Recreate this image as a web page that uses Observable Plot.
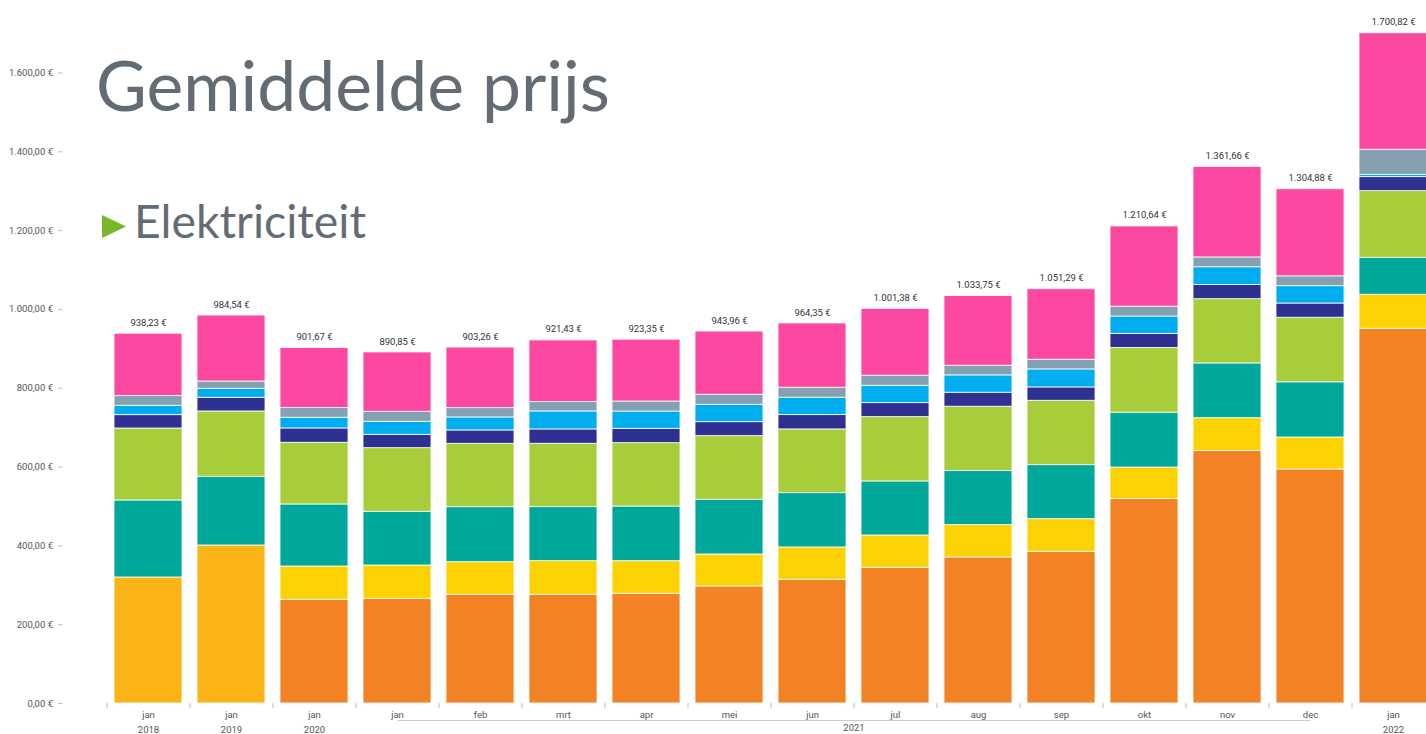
<!DOCTYPE html>
<html>
<head>
<meta charset="utf-8">
<script src="https://cdn.jsdelivr.net/npm/d3@7"></script>
<script src="https://cdn.jsdelivr.net/npm/@observablehq/plot@0.6"></script>
<style>
  html, body { margin: 0; padding: 0; background: #fff; overflow: hidden; }
  #wrap { position: relative; width: 1426px; height: 734px; overflow: hidden; }
  #wrap > svg { max-width: none !important; }
  #wrap > svg.overlay { position: absolute; left: 0; top: 0; pointer-events: none; }
</style>
</head>
<body>
<div id="wrap"></div>
<script>
// ---- data ----
const categories = ["jan 2018","jan 2019","jan 2020","jan 2021","feb 2021","mrt 2021","apr 2021","mei 2021","jun 2021","jul 2021","aug 2021","sep 2021","okt 2021","nov 2021","dec 2021","jan 2022"];
const monthLabels = ["jan","jan","jan","jan","feb","mrt","apr","mei","jun","jul","aug","sep","okt","nov","dec","jan"];
const yearLabels = ["2018","2019","2020","","","","","","","","","","","","","2022"];
const groupYear = "2021";
const seriesNames = ["Component A (2018-2019)","Component A","Component B","Component C","Component D","Component E","Component F","Component G","Component H"];
const seriesColors = ["#FBB416","#F28224","#FDD203","#00A89C","#A7CD3A","#2E3192","#00AEEF","#84A0B1","#FC48A0"];
const compA_old = [319.8, 401.0, 0, 0, 0, 0, 0, 0, 0, 0, 0, 0, 0, 0, 0, 0];
const compA     = [0, 0, 263.2, 265.7, 275.9, 275.9, 278.4, 297.0, 314.0, 344.4, 370.6, 385.0, 519.0, 641.0, 594.0, 951.0];
const compB     = [0, 0, 84.5, 84.5, 82.7, 85.3, 82.7, 81.2, 82.0, 82.0, 82.0, 82.7, 79.8, 83.0, 81.0, 86.3];
const compC     = [195.4, 174.4, 157.4, 136.3, 139.6, 137.1, 138.8, 138.8, 137.8, 137.1, 137.1, 137.1, 139.3, 139.0, 140.0, 93.9];
const compD     = [182.7, 165.7, 156.6, 161.4, 160.9, 160.9, 160.7, 161.4, 161.7, 163.2, 163.5, 163.5, 164.3, 163.0, 164.0, 169.0];
const compE     = [33.8, 34.8, 36.3, 34.0, 33.8, 36.3, 36.5, 35.5, 36.3, 35.5, 35.5, 33.8, 35.7, 36.0, 36.0, 35.5];
const compF     = [23.9, 22.8, 27.2, 33.0, 33.0, 45.7, 43.9, 44.2, 44.2, 44.2, 43.9, 45.7, 44.0, 45.0, 44.0, 6.0];
const compG     = [24.4, 18.5, 24.4, 25.4, 23.6, 23.6, 25.4, 25.4, 25.4, 25.4, 24.6, 24.6, 25.0, 25.0, 25.0, 63.5];
const compH     = [158.4, 167.3, 152.3, 150.5, 153.8, 156.6, 156.9, 160.4, 163.0, 169.5, 176.6, 178.9, 203.5, 229.7, 220.9, 295.6];
const totals    = [938.23, 984.54, 901.67, 890.85, 903.26, 921.43, 923.35, 943.96, 964.35, 1001.38, 1033.75, 1051.29, 1210.64, 1361.66, 1304.88, 1700.82];
const yTicks = [0, 200, 400, 600, 800, 1000, 1200, 1400, 1600];

// ---- build table ----
const seriesValues = [compA_old, compA, compB, compC, compD, compE, compF, compG, compH];
const rows = [];
seriesValues.forEach((vals, s) => vals.forEach((v, i) => {
  if (v > 0) rows.push({cat: categories[i], series: seriesNames[s], value: v});
}));
const totalRows = categories.map((c, i) => ({cat: c, total: totals[i]}));

const nl = d3.formatLocale({decimal: ",", thousands: ".", grouping: [3], currency: ["", " €"]});
const fmt = nl.format("$,.2f");

const font = "Roboto, 'Liberation Sans', sans-serif";
const labelOf = d => {
  const i = categories.indexOf(d);
  return monthLabels[i] + (yearLabels[i] ? "\n" + yearLabels[i] : "");
};

const chart = Plot.plot({
  width: 1435,
  height: 734,
  marginLeft: 106.5,
  marginRight: 0.5,
  marginTop: 0,
  marginBottom: 31,
  style: {fontFamily: font, background: "transparent", overflow: "visible", maxWidth: "none"},
  x: {domain: categories, paddingInner: 0.18, paddingOuter: 0.09, axis: null},
  y: {domain: [0, 1784], axis: null},
  color: {domain: seriesNames, range: seriesColors},
  marks: [
    Plot.barY(rows, {x: "cat", y: "value", fill: "series", stroke: "#ffffff", strokeWidth: 0.8}),
    Plot.text(totalRows, {x: "cat", y: "total", text: d => fmt(d.total), dy: -11, fontSize: 9.5, fill: "#333"}),
    Plot.axisY({ticks: yTicks, tickFormat: d => fmt(d), tickSize: 4, tickPadding: 6, dx: -44, fontSize: 9.5, color: "#555", stroke: "#bbb", label: null}),
    // band boundary ticks
    Plot.axisX({ticks: categories, tickSize: 5, tickFormat: () => "", dx: -41.5, stroke: "#bbb", label: null}),
    // month / year labels
    Plot.axisX({ticks: categories, tickSize: 0, tickPadding: 4, fontSize: 9.5, fill: "#555", lineHeight: 1.55, label: null,
      tickFormat: labelOf}),
    Plot.link([0], {x1: () => "jan 2021", x2: () => "dec 2021", y1: 0, y2: 0, dy: 17, stroke: "#ccc", strokeWidth: 1}),
    Plot.text([groupYear], {x: () => "jun 2021", y: 0, text: d => d, dx: 41.5, dy: 24.5, fontSize: 9.5, fill: "#555"})
  ]
});
const wrap = document.getElementById("wrap");
wrap.appendChild(chart);

// ---- title overlay ----
const titleFont = "Lato, 'Open Sans', sans-serif";
const canvas = document.createElement("canvas").getContext("2d");
function fitSize(text, targetWidth, base) {
  canvas.font = `${base}px ${titleFont}`;
  return base * targetWidth / canvas.measureText(text).width;
}
const titleText = "Gemiddelde prijs";
const subText = "Elektriciteit";
const tSize = fitSize(titleText, 514, 60);
const sSize = fitSize(subText, 232, 40);
const ns = "http://www.w3.org/2000/svg";
const ov = document.createElementNS(ns, "svg");
ov.setAttribute("class", "overlay");
ov.setAttribute("width", 1426);
ov.setAttribute("height", 734);
function addText(txt, x, y, size) {
  const t = document.createElementNS(ns, "text");
  t.setAttribute("x", x); t.setAttribute("y", y);
  t.setAttribute("font-family", titleFont);
  t.setAttribute("font-size", size);
  t.setAttribute("fill", "#636C75");
  t.textContent = txt;
  ov.appendChild(t);
}
addText(titleText, 96, 111, tSize);
addText(subText, 134, 238, sSize);
const tri = document.createElementNS(ns, "polygon");
tri.setAttribute("points", "102,215 126,226.5 102,238");
tri.setAttribute("fill", "#77B82A");
ov.appendChild(tri);
wrap.appendChild(ov);
</script>
</body>
</html>
